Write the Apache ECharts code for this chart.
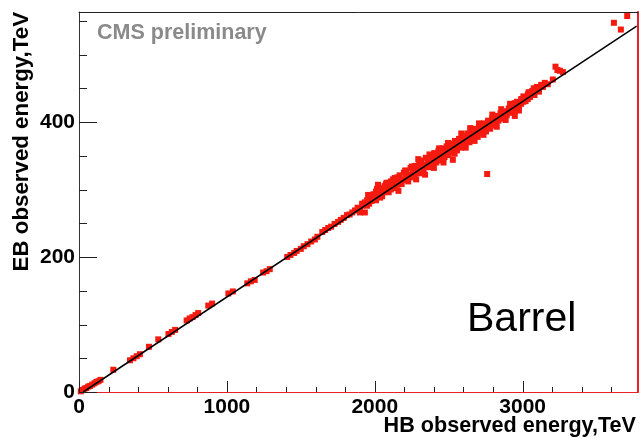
<!DOCTYPE html>
<html>
<head>
<meta charset="utf-8">
<script src="https://cdn.jsdelivr.net/npm/echarts@6/dist/echarts.min.js"></script>
<style>
  html, body { margin: 0; padding: 0; background: #fff; }
  #main { width: 641px; height: 438px; }
</style>
</head>
<body>
<div id="main"></div>
<script>
// HB energy (x) and EB energy (y), TeV
var lowHB = [12, 25, 38, 50, 62, 75, 90, 105, 118, 132,
             145, 232, 345, 368, 390, 412, 473, 536, 605, 628,
             650, 728, 748, 768, 788, 806, 874, 900, 1010, 1040,
             1138, 1162, 1188, 1245, 1268, 1290, 1408, 1430, 1455, 1472,
             1500, 1520, 1545, 1570, 1595, 1612, 1645, 1665, 1685, 1705,
             1728, 1752, 1770, 1790, 1812, 1830, 1848, 1866, 1884];
var lowEB = [1, 3, 5, 6, 8, 9, 11, 13, 15, 16,
             18, 33, 47, 50, 53, 56, 67, 78, 86, 89,
             92, 106, 109, 111, 114, 117, 128, 131, 146, 149,
             161, 164, 166, 177, 179, 182, 200, 203, 206, 209,
             212, 216, 219, 223, 226, 230, 237, 240, 243, 245,
             249, 252, 255, 258, 262, 263, 266, 269, 273];

var bandHB = [1900, 1900, 1915, 1915, 1933, 1933, 1948, 1948, 1962, 1962,
              1978, 1978, 1992, 1992, 2008, 2008, 2022, 2022, 2036, 2036,
              2050, 2050, 2066, 2066, 2080, 2080, 2094, 2094, 2108, 2108,
              2123, 2123, 2138, 2138, 2152, 2152, 2168, 2168, 2182, 2182,
              2197, 2197, 2212, 2212, 2226, 2226, 2242, 2242, 2256, 2256,
              2270, 2270, 2285, 2285, 2300, 2300, 2315, 2315, 2330, 2330,
              2345, 2345, 2360, 2360, 2374, 2374, 2388, 2388, 2402, 2402,
              2416, 2416, 2430, 2430, 2444, 2444, 2458, 2458, 2472, 2472,
              2486, 2486, 2500, 2500, 2515, 2515, 2528, 2528, 2542, 2542,
              2556, 2556, 2570, 2570, 2584, 2584, 2598, 2598, 2612, 2612,
              2626, 2626, 2640, 2640, 2654, 2654, 2668, 2668, 2682, 2682,
              2696, 2696, 2710, 2710, 2724, 2724, 2738, 2738, 2752, 2752,
              2766, 2766, 2780, 2780, 2794, 2794, 2808, 2808, 2822, 2822,
              2836, 2836, 2850, 2850, 2864, 2864, 2878, 2878, 2892, 2892,
              2906, 2906, 2920, 2920, 2934, 2934, 2947, 2947, 2962, 2962,
              2976, 2976, 2990, 2990, 3005, 3005, 3020, 3020, 3035, 3035,
              3050, 3050, 3065, 3065, 3080, 3080, 3096, 3096, 3110, 3110];
var bandEB = [272, 266, 276, 279, 266, 281, 284, 276, 287, 279,
              290, 283, 293, 285, 297, 284, 307, 291, 298, 288,
              302, 290, 305, 296, 310, 299, 304, 296, 312, 300,
              315, 305, 309, 302, 318, 307, 321, 311, 315, 308,
              325, 314, 328, 317, 322, 312, 332, 320, 326, 318,
              335, 323, 331, 326, 338, 324, 342, 333, 336, 328,
              347, 337, 341, 333, 350, 339, 346, 337, 354, 343,
              349, 340, 357, 346, 352, 343, 361, 350, 356, 348,
              364, 353, 360, 351, 368, 356, 344, 363, 372, 361,
              367, 358, 375, 365, 370, 362, 379, 368, 374, 366,
              383, 372, 378, 370, 387, 376, 381, 374, 390, 380,
              385, 378, 394, 384, 389, 386, 398, 390, 393, 386,
              402, 392, 397, 390, 405, 395, 400, 398, 409, 401,
              404, 402, 413, 405, 408, 406, 416, 410, 412, 410,
              420, 414, 424, 416, 418, 414, 409, 428, 430, 422,
              426, 424, 434, 427, 438, 430, 435, 431, 441, 434,
              444, 437, 442, 446, 448, 440, 452, 446, 449, 445];

// scattered points at the ragged edges of the band
var edgeHB = [1955, 2015, 2075, 2135, 2160, 2205, 2250, 2280, 2310, 2340,
              2370, 2400, 2435, 2465, 2495, 2540, 2585, 2615, 2645, 2675,
              2705, 2735, 2795, 2825, 2855, 2885, 2915, 2975, 3040, 3075];
var edgeEB = [292, 301, 308, 317, 298, 328, 334, 315, 343, 322,
              352, 332, 361, 340, 369, 353, 383, 362, 391, 372,
              398, 381, 411, 393, 419, 403, 427, 417, 444, 450];

var sparseHB = [2294, 2760, 3125, 3137, 3150, 3170, 3204, 3222, 3235, 3252, 3272, 3617, 3664, 3707];
var sparseEB = [345, 323, 455, 452, 458, 456, 463, 482, 477, 476, 474, 547, 537, 557];

// straight-line fit drawn over the points
var fitHB = [28, 3771];
var fitEB = [0, 542];

// tick values
var xMajor = [0, 1000, 2000, 3000];
var xMinor = [200, 400, 600, 800, 1200, 1400, 1600, 1800, 2200, 2400, 2600, 2800, 3200, 3400, 3600];
var yMajor = [0, 200, 400];
var yMinor = [50, 100, 150, 250, 300, 350, 450, 500, 550];

var xMax = 3780, yMax = 563;
var font = 'Liberation Sans, Arial, Helvetica, sans-serif';

function pairs(xs, ys) {
  var out = [];
  for (var i = 0; i < xs.length; i++) out.push([xs[i], ys[i]]);
  return out;
}
var points = pairs(lowHB, lowEB).concat(pairs(bandHB, bandEB), pairs(edgeHB, edgeEB), pairs(sparseHB, sparseEB));

function plain(v) { return String(v); }

var texts = [
  {
    type: 'text', x: 97, y: 33,
    style: { text: 'CMS preliminary', fill: '#8a8a8a', fontSize: 21.5, fontWeight: 'bold',
             fontFamily: font, align: 'left', verticalAlign: 'middle' }
  },
  {
    type: 'text', x: 467, y: 320,
    style: { text: 'Barrel', fill: '#000', fontSize: 41, fontFamily: font,
             align: 'left', verticalAlign: 'middle' }
  },
  {
    type: 'text', x: 22, y: 12, rotation: Math.PI / 2,
    style: { text: 'EB observed energy,TeV', fill: '#000', fontSize: 22.3, fontWeight: 'bold',
             fontFamily: font, align: 'right', verticalAlign: 'middle' }
  },
  {
    type: 'text', x: 636, y: 426,
    style: { text: 'HB observed energy,TeV', fill: '#000', fontSize: 21.6, fontWeight: 'bold',
             fontFamily: font, align: 'right', verticalAlign: 'middle' }
  }
];

var myChart = echarts.init(document.getElementById('main'));
var option = {
  animation: false,
  backgroundColor: '#fff',
  grid: { left: 79, right: 3, top: 12, bottom: 46 },
  xAxis: [
    {
      type: 'value', min: 0, max: xMax, interval: 1000, position: 'bottom',
      axisLine: { show: true, onZero: false, lineStyle: { color: '#e8202a', width: 1 } },
      axisTick: { show: false },
      axisLabel: { show: true, showMaxLabel: false, margin: 5, color: '#000', formatter: plain,
                   fontSize: 21, fontWeight: 'bold', fontFamily: font },
      splitLine: { show: false }
    },
    {
      type: 'value', min: 0, max: xMax, position: 'top',
      axisLine: { show: true, onZero: false, lineStyle: { color: '#222', width: 1 } },
      axisTick: { show: false }, axisLabel: { show: false }, splitLine: { show: false }
    }
  ],
  yAxis: [
    {
      type: 'value', min: 0, max: yMax, interval: 200, position: 'left',
      axisLine: { show: true, onZero: false, lineStyle: { color: '#333' } },
      axisTick: { show: false },
      axisLabel: { show: true, showMaxLabel: false, margin: 4, color: '#000', formatter: plain,
                   fontSize: 21, fontWeight: 'bold', fontFamily: font },
      splitLine: { show: false }
    },
    {
      type: 'value', min: 0, max: yMax, position: 'right',
      axisLine: { show: true, onZero: false, lineStyle: { color: '#e8202a', width: 2 } },
      axisTick: { show: false }, axisLabel: { show: false }, splitLine: { show: false }
    }
  ],
  graphic: texts,
  series: [
    {
      name: 'events',
      type: 'scatter',
      symbol: 'rect',
      symbolSize: 6,
      itemStyle: { color: '#f51a10', opacity: 1 },
      data: points,
      z: 2
    },
    {
      name: 'fit',
      type: 'line',
      symbol: 'none',
      lineStyle: { color: '#000', width: 1.5 },
      data: pairs(fitHB, fitEB),
      z: 3
    }
  ]
};
myChart.setOption(option);

// inward tick marks, placed through the axes' own scales
var x0 = myChart.convertToPixel({ xAxisIndex: 0 }, 0);
var y0 = myChart.convertToPixel({ yAxisIndex: 0 }, 0);
var ticks = [];
function xTick(v, len) {
  var px = Math.round(myChart.convertToPixel({ xAxisIndex: 0 }, v)) + 0.5;
  ticks.push({ type: 'line', z: 10, shape: { x1: px, y1: y0, x2: px, y2: y0 - len },
               style: { stroke: '#222', lineWidth: 1 } });
}
function yTick(v, len) {
  var py = Math.round(myChart.convertToPixel({ yAxisIndex: 0 }, v)) + 0.5;
  ticks.push({ type: 'line', z: 10, shape: { x1: x0, y1: py, x2: x0 + len, y2: py },
               style: { stroke: '#222', lineWidth: 1 } });
}
xMajor.forEach(function (v) { xTick(v, 11); });
xMinor.forEach(function (v) { xTick(v, 5); });
yMajor.forEach(function (v) { yTick(v, 18); });
yMinor.forEach(function (v) { yTick(v, 8); });

myChart.setOption({ graphic: texts.concat(ticks) });
</script>
</body>
</html>
